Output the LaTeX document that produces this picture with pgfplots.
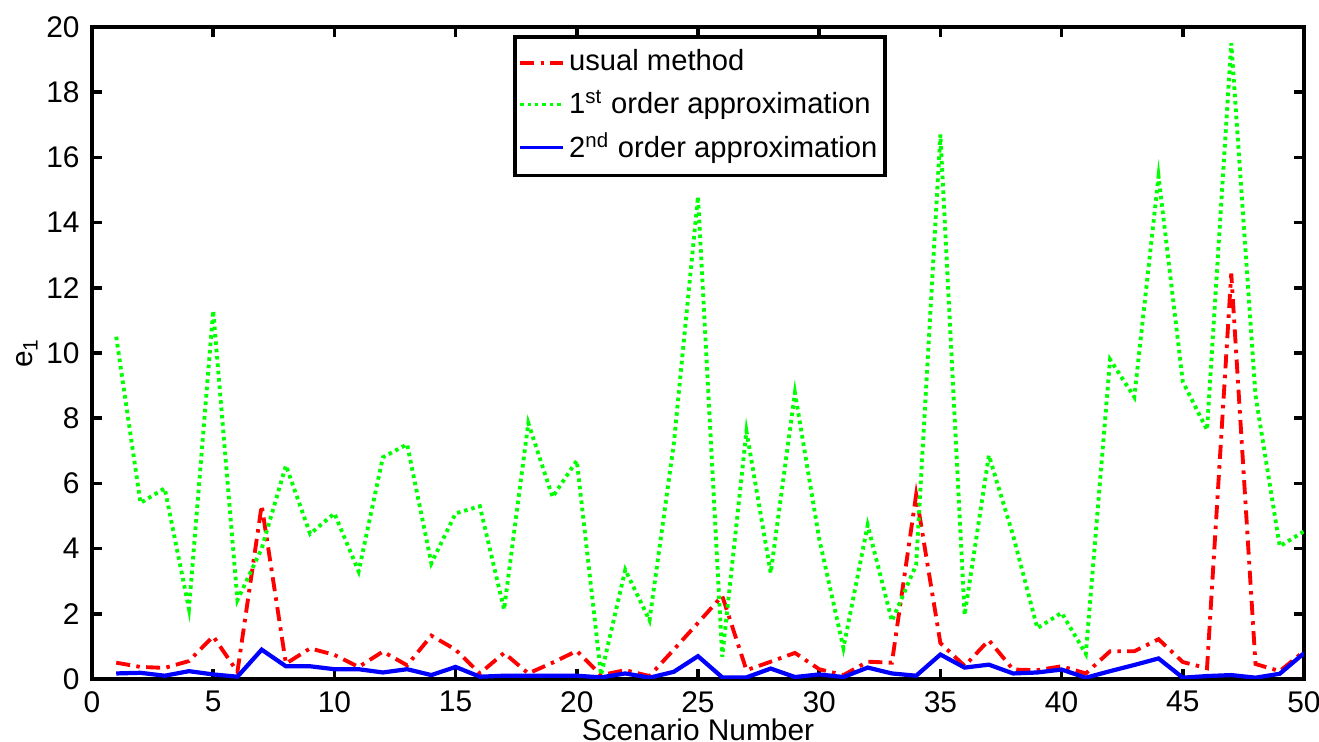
\documentclass[border=0pt]{standalone}
\usepackage{pgfplots}
\pgfplotsset{compat=1.18}
\usepackage{fontspec}
\setmainfont{Liberation Sans}

% series
\pgfplotstableread{
x usual first second
1 0.50 10.50 0.17
2 0.37 5.40 0.19
3 0.34 5.85 0.10
4 0.55 2.15 0.24
5 1.31 11.30 0.14
6 0.22 2.42 0.07
7 5.33 4.00 0.90
8 0.47 6.55 0.39
9 0.94 4.45 0.39
10 0.74 5.08 0.30
11 0.37 3.30 0.30
12 0.84 6.80 0.20
13 0.42 7.20 0.30
14 1.33 3.55 0.12
15 0.90 5.08 0.37
16 0.17 5.30 0.07
17 0.80 2.13 0.10
18 0.17 7.85 0.10
19 0.50 5.58 0.10
20 0.86 6.70 0.10
21 0.12 0.12 0.05
22 0.27 3.35 0.17
23 0.09 1.80 0.04
24 0.90 7.20 0.22
25 1.72 14.80 0.70
26 2.55 0.68 0.05
27 0.27 7.60 0.05
28 0.53 3.25 0.32
29 0.80 8.78 0.06
30 0.30 4.30 0.14
31 0.12 0.95 0.06
32 0.53 4.72 0.35
33 0.50 1.78 0.17
34 5.65 3.50 0.10
35 1.10 16.70 0.75
36 0.40 1.96 0.35
37 1.19 6.86 0.44
38 0.29 4.40 0.17
39 0.27 1.56 0.20
40 0.39 2.03 0.29
41 0.17 0.77 0.04
42 0.85 9.80 0.24
43 0.85 8.65 0.43
44 1.22 15.42 0.63
45 0.52 9.12 0.04
46 0.33 7.64 0.09
47 12.44 19.50 0.12
48 0.46 8.70 0.04
49 0.24 4.07 0.16
50 0.85 4.53 0.79
}\errdata

\begin{document}
\begin{tikzpicture}
	\useasboundingbox (-0.92,-0.63) rectangle (12.27,6.79);
	\begin{axis}[
		at={(0,0)}, anchor=south west,
		scale only axis,
		width=12.12cm, height=6.52cm,
		xmin=0, xmax=50, ymin=0, ymax=20,
		xtick distance=5, ytick distance=2,
		tick align=inside,
		major tick length=0.1cm,
		axis line style={line width=1pt},
		tick style={line width=1pt, black},
		font=\fontsize{8.5}{10}\selectfont,
		/pgf/number format/assume math mode=true,
		xlabel={Scenario Number},
		ylabel={e\textsubscript{1}},
		xlabel style={at={(axis description cs:0.5,0)}, anchor=north, inner sep=0pt, yshift=-0.39cm},
		ylabel style={at={(axis description cs:-0.0487,0.5)}, anchor=base, inner sep=0pt},
		legend cell align=left,
		legend style={at={(0.5017,0.9877)}, anchor=north, draw=black, line width=1pt,
			font=\fontsize{8.3}{9.5}\selectfont, row sep=1.6pt, inner xsep=1pt, inner ysep=2.5pt,
			nodes={inner sep=1.2pt}},
		legend image code/.code={\draw[#1, line width=1pt] (0cm,0cm) -- (0.43cm,0cm);},
		]
		\addplot[red, line width=1.1pt, dash pattern=on 4pt off 1.8pt on 1pt off 1.8pt] table[x=x, y=usual] {\errdata};
		\addlegendentry{usual method}
		\addplot[color={rgb,1:red,0;green,1;blue,0}, line width=1.1pt, dash pattern=on 1pt off 1.1pt] table[x=x, y=first] {\errdata};
		\addlegendentry{1\textsuperscript{st} order approximation}
		\addplot[blue, line width=1.2pt] table[x=x, y=second] {\errdata};
		\addlegendentry{2\textsuperscript{nd} order approximation}
	\end{axis}
\end{tikzpicture}
\end{document}
